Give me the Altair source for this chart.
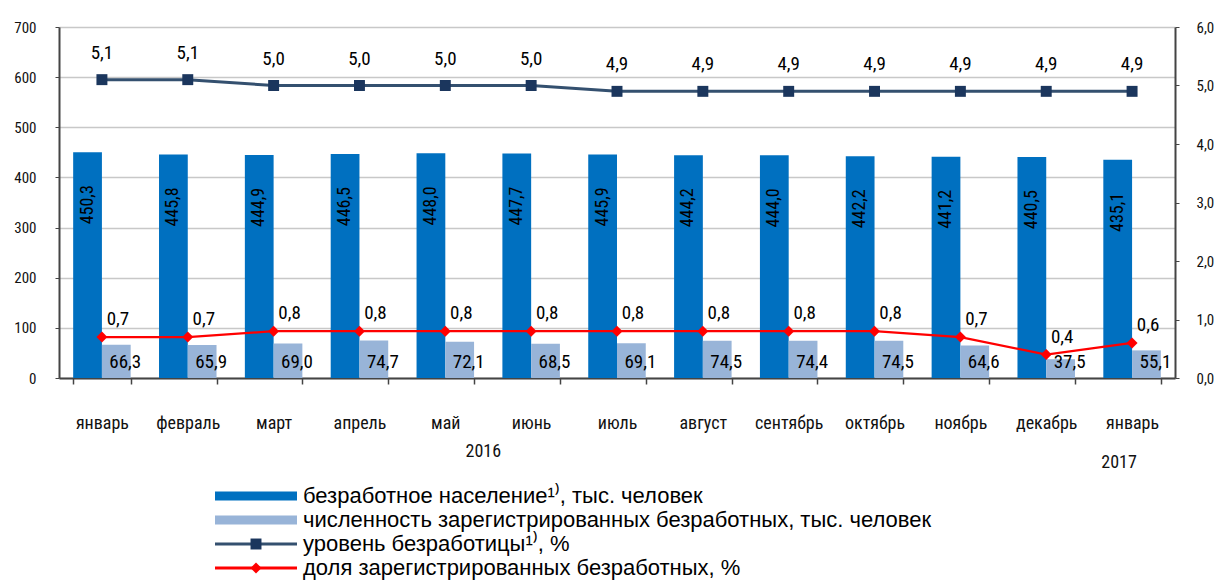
import altair as alt
import pandas as pd

months = ["январь", "февраль", "март", "апрель", "май", "июнь", "июль",
          "август", "сентябрь", "октябрь", "ноябрь", "декабрь", "январь"]
years = ["2016"] * 12 + ["2017"]
unemployed = [450.3, 445.8, 444.9, 446.5, 448.0, 447.7, 445.9, 444.2, 444.0, 442.2, 441.2, 440.5, 435.1]
registered = [66.3, 65.9, 69.0, 74.7, 72.1, 68.5, 69.1, 74.5, 74.4, 74.5, 64.6, 37.5, 55.1]
rate = [5.1, 5.1, 5.0, 5.0, 5.0, 5.0, 4.9, 4.9, 4.9, 4.9, 4.9, 4.9, 4.9]
share = [0.7, 0.7, 0.8, 0.8, 0.8, 0.8, 0.8, 0.8, 0.8, 0.8, 0.7, 0.4, 0.6]
series_names = [
    "безработное население¹⁾,  тыс. человек",
    "численность зарегистрированных  безработных, тыс. человек",
    "уровень безработицы¹⁾, %",
    "доля зарегистрированных  безработных, %",
]
year_labels = ["2016", "2017"]
year_anchor = ["май", "январь"]

FONT = "Liberation Sans Narrow, Arial Narrow, Roboto Condensed, DejaVu Sans Condensed, sans-serif"
LFONT = "Liberation Sans, Arial, sans-serif"
C_DARK = "#0070C0"
C_LIGHT = "#98B4D8"
C_RATE = "#34506F"
C_RATE_M = "#1B365D"
C_RED = "#FF0000"


def fmt(v):
    return f"{v:.1f}".replace(".", ",")


keys = [f"{m}|{y}" for m, y in zip(months, years)]

bars = pd.DataFrame(
    [{"key": k, "s": "a", "value": v, "lbl": fmt(v)} for k, v in zip(keys, unemployed)]
    + [{"key": k, "s": "b", "value": v, "lbl": fmt(v)} for k, v in zip(keys, registered)]
)
lines = pd.DataFrame({"key": keys, "rate": rate, "share": share,
                      "rl": [fmt(v) for v in rate], "sl": [fmt(v) for v in share]})
yr = pd.DataFrame({"key": [f"{m}|{y}" for m, y in zip(year_anchor, year_labels)], "t": year_labels})

W, H = 1116, 351

xenc = alt.X("key:N", sort=keys,
             scale=alt.Scale(paddingInner=0.33, paddingOuter=0.165),
             axis=alt.Axis(title=None, labelExpr="split(datum.label,'|')[0]",
                           tickBand="extent", domainColor="#444", domainWidth=2,
                           tickColor="#444", tickWidth=1.5, tickSize=6,
                           labelFontSize=18, labelPadding=30, labelColor="#111",
                           labelFont=FONT, grid=False, labelAngle=0))
xoff = alt.XOffset("s:N", sort=["a", "b"], scale=alt.Scale(domain=["a", "b"], paddingInner=0, paddingOuter=0))
yleft = alt.Y("value:Q", scale=alt.Scale(domain=[0, 700], nice=False),
              axis=alt.Axis(title=None, values=list(range(0, 701, 100)), grid=True,
                            gridColor="#C8C8C8", gridWidth=1.6, domainColor="#444",
                            domainWidth=2, tickColor="#444", tickSize=4, labelPadding=19,
                            labelFontSize=15, labelFont=FONT, labelColor="#111"))

bar_layer = alt.Chart(bars).mark_bar().encode(
    x=xenc, xOffset=xoff, y=yleft,
    color=alt.Color("s:N", scale=alt.Scale(domain=["a", "b"], range=[C_DARK, C_LIGHT]), legend=None),
)
dark_lbl = alt.Chart(bars).transform_filter("datum.s == 'a'").mark_text(
    angle=270, align="right", baseline="middle", dx=-33, fontSize=18, font=FONT, color="#000"
).encode(x=xenc, xOffset=xoff, y=alt.Y("value:Q"), text="lbl:N")
light_lbl = alt.Chart(bars).transform_filter("datum.s == 'b'").mark_text(
    align="center", baseline="middle", dx=9, dy=-16, fontSize=19, font=FONT, color="#000"
).encode(x=xenc, xOffset=xoff, y=alt.datum(0), text="lbl:N")

yright_scale = alt.Scale(domain=[0, 6], nice=False)
yright_axis = alt.Axis(title=None, orient="right", values=[0, 1, 2, 3, 4, 5, 6],
                       labelExpr="replace(format(datum.value,'.1f'),'.',',')",
                       grid=False, domainColor="#444", domainWidth=2, tickColor="#444",
                       tickSize=4, labelPadding=17, labelFontSize=15, labelFont=FONT,
                       labelColor="#111")

rate_line = alt.Chart(lines).mark_line(color=C_RATE, strokeWidth=3).encode(
    x=alt.X("key:N", sort=keys), y=alt.Y("rate:Q", scale=yright_scale, axis=yright_axis))
rate_pts = alt.Chart(lines).mark_point(shape="square", filled=True, size=120, color=C_RATE_M, opacity=1).encode(
    x=alt.X("key:N", sort=keys), y=alt.Y("rate:Q"))
rate_lbl = alt.Chart(lines).mark_text(dy=-27, fontSize=19, font=FONT, color="#000").encode(
    x=alt.X("key:N", sort=keys), y=alt.Y("rate:Q"), text="rl:N")
share_line = alt.Chart(lines).mark_line(color=C_RED, strokeWidth=2.2).encode(
    x=alt.X("key:N", sort=keys), y=alt.Y("share:Q"))
share_pts = alt.Chart(lines).mark_point(shape="diamond", filled=True, size=120, color=C_RED, opacity=1).encode(
    x=alt.X("key:N", sort=keys), y=alt.Y("share:Q"))
share_lbl = alt.Chart(lines).mark_text(dx=16, dy=-18, fontSize=19, font=FONT, color="#000").encode(
    x=alt.X("key:N", sort=keys), y=alt.Y("share:Q"), text="sl:N")

yr16 = alt.Chart(yr).transform_filter("datum.t == '2016'").mark_text(
    dx=38, fontSize=18, font=FONT, color="#111").encode(
    x=alt.X("key:N", sort=keys), y=alt.value(H + 74), text="t:N")
yr17 = alt.Chart(yr).transform_filter("datum.t == '2017'").mark_text(
    dx=-13, fontSize=18, font=FONT, color="#111").encode(
    x=alt.X("key:N", sort=keys), y=alt.value(H + 85), text="t:N")

left = alt.layer(bar_layer, dark_lbl, light_lbl, yr16, yr17)
right = alt.layer(rate_line, rate_pts, rate_lbl, share_line, share_pts, share_lbl)
main = alt.layer(left, right).resolve_scale(y="independent").properties(width=W, height=H)

leg = pd.DataFrame({"name": series_names, "k": ["a", "b", "c", "d"]})
yleg = alt.Y("name:N", sort=series_names, axis=None, scale=alt.Scale(paddingInner=0, paddingOuter=0))
LX0, LX1, LT = 156, 238, 244
LMID = (LX0 + LX1) / 2


def leg_rule(k, color, width):
    return alt.Chart(leg).transform_filter(f"datum.k == '{k}'").mark_rule(
        strokeWidth=width, color=color).encode(y=yleg, x=alt.value(LX0), x2=alt.value(LX1))


leg_sq = alt.Chart(leg).transform_filter("datum.k == 'c'").mark_point(
    shape="square", filled=True, size=120, color=C_RATE_M, opacity=1).encode(
    y=yleg, x=alt.value(LMID))
leg_dm = alt.Chart(leg).transform_filter("datum.k == 'd'").mark_point(
    shape="diamond", filled=True, size=120, color=C_RED, opacity=1).encode(
    y=yleg, x=alt.value(LMID))
leg_txt = alt.Chart(leg).mark_text(align="left", baseline="middle", fontSize=22, font=LFONT, color="#000").encode(
    y=yleg, x=alt.value(LT), text="name:N")
legend = alt.layer(
    leg_rule("a", C_DARK, 9), leg_rule("b", C_LIGHT, 9),
    leg_rule("c", C_RATE, 3), leg_rule("d", C_RED, 3),
    leg_sq, leg_dm, leg_txt
).properties(width=900, height=96)

chart = alt.vconcat(main, legend, spacing=12).properties(
    padding={"left": 5, "top": 12, "right": 0, "bottom": 0}
).configure(font=FONT).configure_view(stroke=None, strokeWidth=0)

chart.save("out.html", embed_options={"renderer": "svg", "actions": False})
